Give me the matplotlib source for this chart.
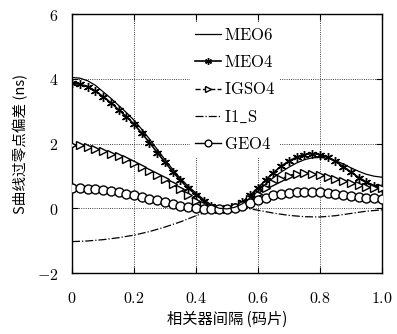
import numpy as np
import matplotlib
matplotlib.use("Agg")
import matplotlib.pyplot as plt

plt.rcParams["mathtext.fontset"] = "cm"
plt.rcParams["font.family"] = ["DejaVu Serif"]

# correlator spacing (chips)
x_dense = np.linspace(0, 1, 41)
x_i1s = np.linspace(0, 1, 21)

meo6 = [4.04, 4.02, 3.94, 3.80, 3.60, 3.40, 3.18, 2.96, 2.72, 2.44, 2.14, 1.82,
        1.50, 1.20, 0.92, 0.68, 0.47, 0.27, 0.10, 0.00, -0.02, 0.03, 0.14, 0.32,
        0.53, 0.75, 0.95, 1.12, 1.27, 1.40, 1.50, 1.56, 1.57, 1.54, 1.47, 1.37,
        1.25, 1.14, 1.05, 0.99, 0.96]
meo4 = [3.86, 3.83, 3.76, 3.63, 3.45, 3.26, 3.05, 2.83, 2.60, 2.32, 2.03, 1.72,
        1.42, 1.13, 0.86, 0.62, 0.42, 0.23, 0.07, -0.02, -0.03, 0.05, 0.20, 0.40,
        0.63, 0.87, 1.10, 1.30, 1.46, 1.58, 1.66, 1.69, 1.66, 1.58, 1.45, 1.29,
        1.12, 0.95, 0.81, 0.70, 0.62]
igso4 = [1.95, 1.94, 1.90, 1.84, 1.77, 1.69, 1.60, 1.51, 1.41, 1.29, 1.16, 1.03,
         0.89, 0.74, 0.58, 0.40, 0.23, 0.11, 0.03, -0.02, -0.02, 0.04, 0.14, 0.28,
         0.45, 0.62, 0.78, 0.91, 1.01, 1.07, 1.09, 1.07, 1.03, 0.97, 0.90, 0.83,
         0.77, 0.71, 0.67, 0.64, 0.62]
geo4 = [0.62, 0.62, 0.61, 0.59, 0.56, 0.53, 0.49, 0.45, 0.40, 0.35, 0.30, 0.24,
        0.18, 0.13, 0.08, 0.04, 0.01, -0.01, -0.02, -0.02, -0.01, 0.02, 0.08, 0.16,
        0.25, 0.33, 0.40, 0.45, 0.48, 0.50, 0.51, 0.51, 0.50, 0.48, 0.45, 0.42,
        0.39, 0.36, 0.33, 0.31, 0.30]
i1_s = [-1.03, -1.01, -0.97, -0.91, -0.83, -0.72, -0.58, -0.42, -0.23, -0.06,
        0.04, 0.02, -0.06, -0.15, -0.22, -0.26, -0.27, -0.23, -0.16, -0.09, -0.05]

xticks = [0, 0.2, 0.4, 0.6, 0.8, 1.0]
xtick_labels = ["$0$", "$0.2$", "$0.4$", "$0.6$", "$0.8$", "$1.0$"]
yticks = [-2, 0, 2, 4, 6]
ytick_labels = ["$-2$", "$0$", "$2$", "$4$", "$6$"]

fig = plt.figure(figsize=(3.97, 3.34), dpi=100)
ax = fig.add_axes([0.1814, 0.1826, 0.7806, 0.7754])

ax.plot(x_dense, meo6, color="black", lw=0.9, label=r"$\mathrm{MEO6}$", zorder=5)
ax.plot(x_dense, meo4, color="black", lw=1.2, marker=(6, 2, 0), ms=6.5, mew=1.0,
        label=r"$\mathrm{MEO4}$", zorder=4)
ax.plot(x_dense, igso4, color="black", lw=1.0, ls="--", marker=">", ms=6,
        mfc="white", mew=1.0, label=r"$\mathrm{IGSO4}$", zorder=4)
ax.plot(x_i1s, i1_s, color="black", lw=0.9, ls="-.", label=r"$\mathrm{I1\_S}$", zorder=3)
ax.plot(x_dense, geo4, color="black", lw=1.0, marker="o", ms=6.5, mfc="white",
        mew=1.0, label=r"$\mathrm{GEO4}$", zorder=4)

ax.set_xlim(0, 1)
ax.set_ylim(-2, 6)
ax.set_xticks(xticks)
ax.set_xticklabels(xtick_labels, fontsize=11.5)
ax.set_yticks(yticks)
ax.set_yticklabels(ytick_labels, fontsize=11.5)
ax.tick_params(direction="in", length=4, width=0.8, top=True, right=True)
ax.tick_params(axis="x", pad=12)
ax.tick_params(axis="y", pad=10)
ax.grid(True, ls=":", color="black", lw=0.6)
ax.set_axisbelow(True)
for s in ax.spines.values():
    s.set_linewidth(1.0)

ax.set_xlabel("相关器间隔 (码片)", family=["Noto Sans CJK SC"], fontsize=11, labelpad=3)
ax.set_ylabel("S曲线过零点偏差 (ns)", family=["Noto Sans CJK SC"], fontsize=10.5, labelpad=6)

leg = ax.legend(loc="upper left", bbox_to_anchor=(0.38, 0.97), fontsize=12,
                frameon=True, framealpha=1, edgecolor="none", facecolor="white",
                fancybox=False, handlelength=1.6, handletextpad=0.15,
                labelspacing=0.62, borderpad=0.3, borderaxespad=0,
                markerscale=0.75)
leg.set_zorder(10)

fig.savefig("out.png", dpi=100)
